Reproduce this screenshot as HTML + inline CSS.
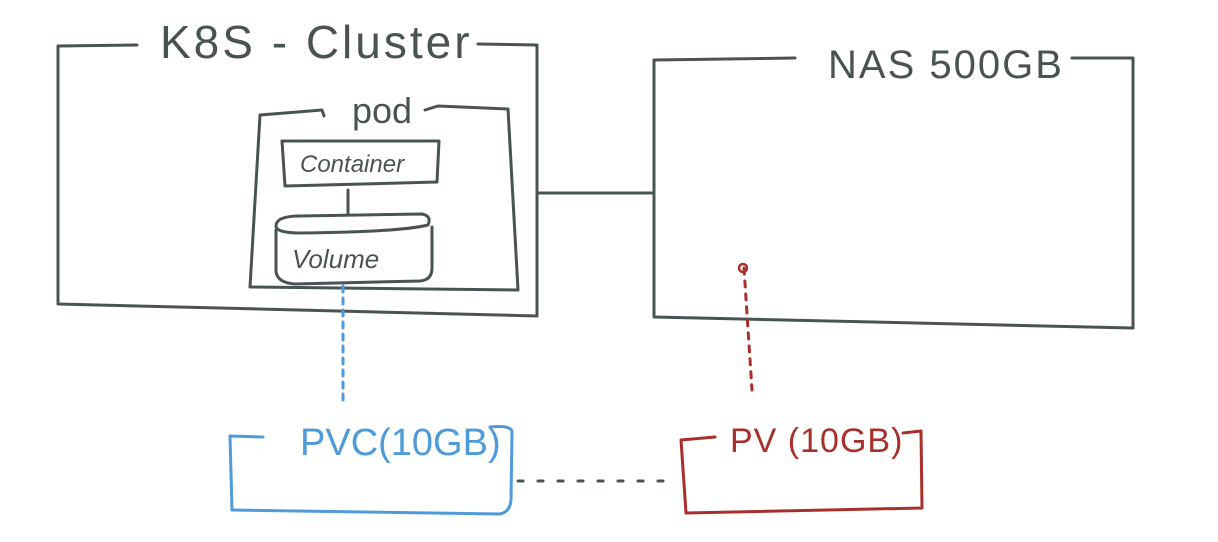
<!DOCTYPE html>
<html><head><meta charset="utf-8"><style>
html,body{margin:0;padding:0;background:#fff;width:1218px;height:542px;overflow:hidden}
svg{display:block}
text{font-family:"Liberation Sans",sans-serif}
</style></head><body>
<svg width="1218" height="542" viewBox="0 0 1218 542" fill="none" stroke-linecap="round" stroke-linejoin="round">
<g stroke="#4a5354" stroke-width="3">
<path d="M137 45 L58 46 L58 304 L537 316 L537 45 L478 44"/>
<path d="M795 58 L654 60 L654 317 L1133 328 L1133 58 L1072 58"/>
<path d="M538 193 L653 193"/>
<path d="M324 116 L322 110 L260 115 L250 287 L518 290 L508 109 L438 106 L425 110"/>
<path d="M282 141 L439 141 L437 182 L285 186 Z"/>
<path d="M348 190 L348 214"/>
<path d="M276 226 Q276 216 300 216 L422 214 Q432 216 428 225 Q400 232 300 233 Q276 233 276 226"/>
<path d="M276 230 L276 272 Q278 283 295 284 L420 281 Q432 280 432 268 L432 227"/>
</g>
<g fill="#4a5354">
<text x="160" y="58" font-size="46" letter-spacing="3">K8S - Cluster</text>
<text x="828" y="78" font-size="40" letter-spacing="2">NAS 500GB</text>
<text x="352" y="123" font-size="36">pod</text>
</g>
<text x="300" y="172" fill="#4a5354" font-size="24" font-style="italic">Container</text>
<text x="292" y="268" fill="#4a5354" font-size="26" font-style="italic">Volume</text>
<path d="M343 286 L343 400" stroke="#4f9ad8" stroke-width="3" stroke-dasharray="6 6"/>
<path d="M263 437 L230 436 L232 510 L500 514 Q510 512 511 500 L512 432 Q512 425 490 427" stroke="#4f9ad8" stroke-width="3"/>
<text x="300" y="455" fill="#4f9ad8" font-size="38">PVC(10GB)</text>
<path d="M744 268 L752 390" stroke="#a8302c" stroke-width="3" stroke-dasharray="6 7"/>
<circle cx="743" cy="268" r="4" stroke="#a8302c" stroke-width="2.5"/>
<path d="M715 437 L681 440 L686 513 L922 508 L921 431 L903 433" stroke="#a8302c" stroke-width="3"/>
<text x="730" y="452" fill="#a8302c" font-size="34" letter-spacing="1">PV (10GB)</text>
<path d="M518 481 L668 481" stroke="#4a5354" stroke-width="3" stroke-dasharray="5 15"/>
</svg>
</body></html>
